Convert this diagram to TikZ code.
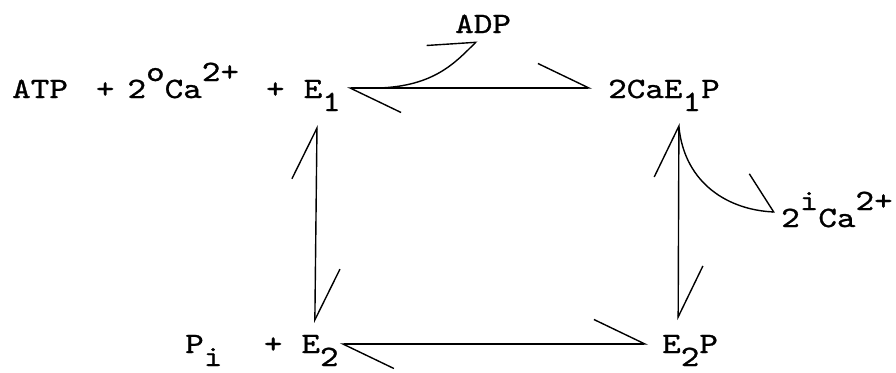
\documentclass[tikz,border=0pt]{standalone}
\usepackage{fontspec}
\usepackage{tikz}
\usetikzlibrary{arrows.meta}
\newfontfamily\reactfont[FakeStretch=1.2,FakeBold=1.0]{lmmono10-regular.otf}
\newcommand\supr[1]{\raisebox{17pt}{#1}}
\newcommand\subr[1]{\raisebox{-13pt}{#1}}

\begin{document}
\begin{tikzpicture}[
    x=1pt, y=-1pt,
    species/.style={
        inner sep=0pt,
        anchor=base west,
        font=\reactfont\fontsize{29.5}{34}\selectfont
    },
    stroke/.style={line width=1.4pt},
    harpoons/.style={
        stroke,
        arrows={Straight Barb[left,length=51pt,width=49pt]-Straight Barb[left,length=51pt,width=49pt]}
    },
    release/.style={stroke, -{Straight Barb[left,length=#1]}}
]
\useasboundingbox (0,0) rectangle (896,372);

% the four states of the cycle
\node[species] (atp) at (12,98) {ATP\hspace{28pt}+\hspace{13pt}2\supr{o}Ca\supr{2+}\hspace{27pt}+\hspace{19pt}E\subr{1}};
\node[species] (cae) at (608,98) {2CaE\subr{1}P};
\node[species] (pie) at (185,353) {P\subr{i}\hspace{41.5pt}+\hspace{19pt}E\subr{2}};
\node[species] (etp) at (662,353) {E\subr{2}P};

% released species
\node[species] (adp) at (455,33) {ADP};
\node[species] (cai) at (781,227) {2\supr{i}Ca\supr{2+}};

% equilibria
\draw[harpoons] ([shift={(6,-10)}]atp.base east) -- ([shift={(-16,-10)}]cae.base west);
\draw[harpoons] ([shift={(-24,27)}]atp.base east) -- ([shift={(-24,-30)}]pie.base east);
\draw[harpoons] ([shift={(-41,25)}]cae.base east) -- ([shift={(-40,-33)}]etp.base east);
\draw[harpoons] ([shift={(1,-9)}]pie.base east) -- ([shift={(-14,-9)}]etp.base west);

\draw[release={37pt,width=65pt}] ([shift={(38,-10)}]atp.base east)
    .. controls +(55,-2) and +(-22,22) .. ([shift={(22,8)}]adp.base west);
\draw[release={26pt,width=74pt}] ([shift={(-41,29)}]cae.base east)
    .. controls +(6,58) and +(-45,-2) .. ([shift={(-6,-15)}]cai.base west);
\end{tikzpicture}
\end{document}
